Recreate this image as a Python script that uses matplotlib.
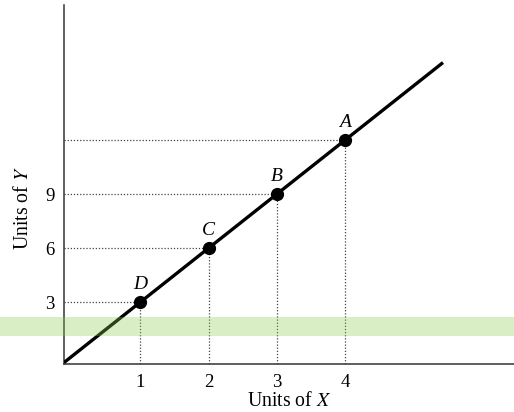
import matplotlib
matplotlib.use("Agg")
import matplotlib.pyplot as plt
from matplotlib.patches import Rectangle

# points on the line Y = 3X
pt_names = ["D", "C", "B", "A"]
pt_x = [1, 2, 3, 4]
pt_y = [3, 6, 9, 12]
# line end points
line_x = [-0.12, 5.43]
line_y = [-0.36, 16.3]
xticks = [1, 2, 3, 4]
yticks = [3, 6, 9]

plt.rcParams["font.family"] = ["Liberation Serif", "DejaVu Serif"]
plt.rcParams["mathtext.fontset"] = "stix"

fig = plt.figure(figsize=(5.14, 4.12), dpi=100)
ax = fig.add_axes([0.1245, 0.1165, 0.8755, 0.8715])
ax.set_xlim(-0.12, 6.47)
ax.set_ylim(-0.44, 19.5)

GUIDE = "#444444"
for x, y in zip(pt_x, pt_y):
    ax.plot([-0.12, x], [y, y], ls=(0, (1, 1.5)), color=GUIDE, lw=0.9, zorder=1)
    ax.plot([x, x], [-0.44, y], ls=(0, (1, 1.5)), color=GUIDE, lw=0.9, zorder=1)

ax.plot(line_x, line_y, color="black", lw=2.4, solid_capstyle="butt", zorder=3)
ax.plot(pt_x, pt_y, "o", color="black", ms=8.5, zorder=4)
for n, x, y in zip(pt_names, pt_x, pt_y):
    ax.annotate(n, (x, y), xytext=(0, 12.5), textcoords="offset points",
                ha="center", va="center", fontsize=14, style="italic")

for s in ["top", "right"]:
    ax.spines[s].set_visible(False)
for s in ["left", "bottom"]:
    ax.spines[s].set_color("#333333")
    ax.spines[s].set_linewidth(1.1)

ax.set_xticks(xticks)
ax.set_yticks(yticks)
ax.tick_params(length=0, labelsize=13.5, pad=7)
ax.set_xlabel("Units of $\\mathit{X}$", fontsize=14.2)
ax.set_ylabel("Units of $\\mathit{Y}$", fontsize=14.2)
ax.xaxis.set_label_coords(0.5, -0.078)
ax.yaxis.set_label_coords(-0.068, 0.435)

# highlight band across the figure
fig.patches.append(Rectangle((0, 0.1845), 1, 0.046, transform=fig.transFigure,
                             facecolor="#8ccb4e", alpha=0.32, edgecolor="none", zorder=5))

fig.savefig("out.png", dpi=100)
